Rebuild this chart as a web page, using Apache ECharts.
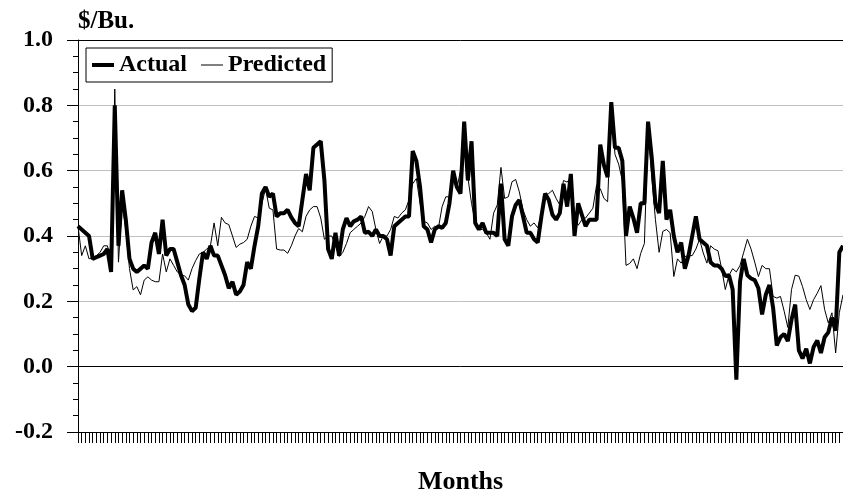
<!DOCTYPE html>
<html>
<head>
<meta charset="utf-8">
<script src="https://cdn.jsdelivr.net/npm/echarts@6/dist/echarts.min.js"></script>
<style>html,body{margin:0;padding:0;background:#fff;}#c{width:843px;height:500px;}</style>
</head>
<body>
<div id="c"></div>
<script>
const seriesNames = ['Actual', 'Predicted'];
const yTitle = '$/Bu.';
const xTitle = 'Months';

const actual = [
0.43,0.42,0.41,0.40,0.33,0.335,0.34,0.345,0.36,0.29,
0.80,0.37,0.54,0.45,0.33,0.30,0.29,0.30,0.31,0.30,
0.38,0.41,0.345,0.45,0.34,0.36,0.36,0.32,0.28,0.25,
0.19,0.17,0.18,0.27,0.35,0.33,0.37,0.34,0.34,0.31,
0.28,0.24,0.26,0.22,0.23,0.25,0.32,0.30,0.37,0.43,
0.53,0.55,0.52,0.53,0.46,0.47,0.47,0.48,0.457,0.44,
0.43,0.51,0.59,0.54,0.67,0.68,0.69,0.57,0.36,0.33,
0.41,0.34,0.42,0.455,0.43,0.445,0.45,0.46,0.41,0.413,
0.40,0.42,0.40,0.40,0.39,0.34,0.43,0.44,0.45,0.46,
0.46,0.66,0.63,0.55,0.43,0.42,0.38,0.42,0.43,0.425,
0.44,0.50,0.60,0.55,0.53,0.75,0.57,0.69,0.44,0.42,
0.44,0.41,0.41,0.41,0.40,0.56,0.39,0.37,0.46,0.495,
0.51,0.46,0.41,0.41,0.39,0.38,0.46,0.53,0.51,0.465,
0.45,0.47,0.56,0.49,0.59,0.40,0.50,0.465,0.43,0.45,
0.45,0.45,0.68,0.617,0.58,0.81,0.67,0.67,0.63,0.40,
0.49,0.455,0.41,0.50,0.50,0.75,0.64,0.50,0.47,0.63,
0.45,0.48,0.40,0.35,0.38,0.30,0.34,0.40,0.46,0.39,
0.38,0.37,0.32,0.31,0.31,0.30,0.277,0.28,0.236,-0.04,
0.26,0.33,0.28,0.27,0.265,0.24,0.16,0.22,0.25,0.18,
0.065,0.09,0.10,0.078,0.144,0.19,0.05,0.025,0.055,0.01,
0.06,0.08,0.042,0.09,0.105,0.15,0.11,0.35,0.37
];

const predicted = [
0.43,0.34,0.37,0.33,0.335,0.34,0.35,0.37,0.37,0.32,
0.85,0.32,0.50,0.42,0.30,0.235,0.245,0.22,0.265,0.275,
0.265,0.26,0.26,0.345,0.29,0.33,0.31,0.29,0.28,0.278,
0.265,0.30,0.325,0.345,0.35,0.36,0.37,0.44,0.37,0.457,
0.44,0.435,0.40,0.365,0.375,0.38,0.39,0.43,0.46,0.455,
0.50,0.545,0.485,0.48,0.36,0.357,0.357,0.347,0.37,0.40,
0.423,0.413,0.46,0.48,0.49,0.49,0.455,0.39,0.40,0.40,
0.37,0.337,0.35,0.377,0.41,0.42,0.43,0.44,0.46,0.49,
0.475,0.42,0.377,0.40,0.40,0.42,0.46,0.455,0.47,0.48,
0.51,0.56,0.576,0.50,0.445,0.44,0.42,0.43,0.425,0.49,
0.52,0.52,0.57,0.545,0.60,0.69,0.58,0.50,0.44,0.42,
0.42,0.41,0.39,0.47,0.495,0.61,0.515,0.52,0.566,0.573,
0.535,0.48,0.45,0.43,0.44,0.425,0.47,0.525,0.53,0.54,
0.515,0.495,0.57,0.565,0.58,0.454,0.433,0.45,0.455,0.47,
0.485,0.556,0.545,0.515,0.505,0.79,0.65,0.62,0.57,0.31,
0.316,0.33,0.30,0.347,0.377,0.73,0.58,0.45,0.35,0.414,
0.42,0.41,0.276,0.33,0.317,0.337,0.34,0.34,0.36,0.39,
0.348,0.317,0.37,0.36,0.355,0.30,0.236,0.28,0.30,0.29,
0.31,0.35,0.39,0.36,0.32,0.276,0.31,0.30,0.30,0.215,
0.21,0.215,0.17,0.12,0.236,0.28,0.277,0.245,0.205,0.175,
0.205,0.225,0.248,0.175,0.134,0.165,0.042,0.165,0.22
];

const months = actual.map((_, i) => 'Month ' + (i + 1));

const font = 'Liberation Serif, "Times New Roman", serif';
const chart = echarts.init(document.getElementById('c'), null, {renderer: 'canvas'});
chart.setOption({
  animation: false,
  backgroundColor: '#fff',
  grid: {left: 78, right: 0, top: 40, bottom: 68, containLabel: false},
  legend: {
    data: [
      {name: seriesNames[0], icon: 'path://M0,0H22V4H0Z'},
      {name: seriesNames[1], icon: 'path://M0,0H22V1H0Z'}
    ],
    left: 86, top: 48,
    borderColor: '#000', borderWidth: 1,
    padding: [5, 6, 5, 6],
    itemWidth: 22, itemHeight: 14, itemGap: 14,
    symbolKeepAspect: true,
    itemStyle: {color: '#000', borderWidth: 0},
    textStyle: {fontFamily: font, fontWeight: 'bold', fontSize: 24, color: '#000'}
  },
  xAxis: {
    type: 'category',
    data: months,
    boundaryGap: false,
    name: xTitle,
    nameLocation: 'middle',
    nameGap: 50,
    nameTextStyle: {fontFamily: font, fontWeight: 'bold', fontSize: 26, color: '#000', verticalAlign: 'middle'},
    axisLine: {onZero: false, lineStyle: {color: '#000', width: 1}},
    axisTick: {show: true, interval: 0, length: 11, lineStyle: {color: '#000', width: 1}},
    axisLabel: {show: false},
    splitLine: {show: false}
  },
  yAxis: {
    type: 'value',
    min: -0.2, max: 1.0, interval: 0.2,
    name: yTitle,
    nameLocation: 'end',
    nameGap: 18,
    nameTextStyle: {fontFamily: font, fontWeight: 'bold', fontSize: 25, color: '#000', align: 'left', verticalAlign: 'middle'},
    axisLine: {show: true, lineStyle: {color: '#000', width: 1}},
    axisTick: {show: true, length: 11, lineStyle: {color: '#000', width: 1}},
    minorTick: {show: true, splitNumber: 4, length: 5, lineStyle: {color: '#000', width: 1}},
    axisLabel: {
      margin: 25,
      fontFamily: font, fontWeight: 'bold', fontSize: 24, color: '#000',
      formatter: v => v.toFixed(1)
    },
    splitLine: {show: true, lineStyle: {color: '#c0c0c0', width: 1}}
  },
  series: [
    {
      name: seriesNames[0], type: 'line', data: actual,
      symbol: 'none', showSymbol: false, clip: false,
      lineStyle: {color: '#000', width: 4},
      itemStyle: {color: '#000'},
      z: 2,
      markLine: {
        silent: true, symbol: 'none', label: {show: false},
        lineStyle: {color: '#000', width: 1, type: 'solid'},
        data: [{yAxis: 0}, {yAxis: 1.0}]
      }
    },
    {
      name: seriesNames[1], type: 'line', data: predicted,
      symbol: 'none', showSymbol: false, clip: false,
      lineStyle: {color: '#000', width: 1},
      itemStyle: {color: '#000'},
      z: 3
    }
  ]
});
</script>
</body>
</html>
